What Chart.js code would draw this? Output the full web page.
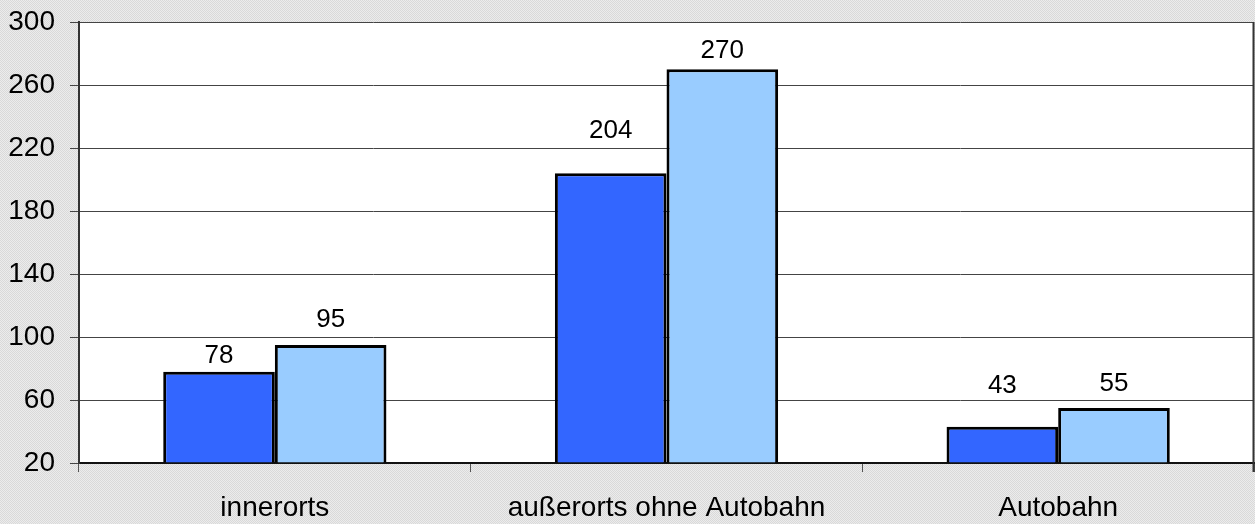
<!DOCTYPE html>
<html>
<head>
<meta charset="utf-8">
<script src="https://cdn.jsdelivr.net/npm/chart.js@4/dist/chart.umd.min.js"></script>
<style>
html,body{margin:0;padding:0;background:#e4e4e4;}
canvas{display:block;}
</style>
</head>
<body>
<canvas id="c" width="1255" height="524"></canvas>
<script>
const categories = ["innerorts", "außerorts ohne Autobahn", "Autobahn"];
const seriesA = [78, 204, 43];
const seriesB = [95, 270, 55];
const yMin = 20, yMax = 300, yStep = 40;

// label lift above bar top (px, to label centre) - style only
const liftA = [18, 45, 43];
const liftB = [27, 21, 26];

const FONT = "'Liberation Sans', Arial, sans-serif";

const bgPlugin = {
  id: 'bg',
  beforeDraw(chart) {
    const ctx = chart.ctx;
    const pc = document.createElement('canvas');
    pc.width = 2; pc.height = 2;
    const p = pc.getContext('2d');
    p.fillStyle = '#ececec'; p.fillRect(0,0,2,2);
    p.fillStyle = '#d9d9d9'; p.fillRect(0,0,1,1); p.fillRect(1,1,1,1);
    ctx.save();
    ctx.fillStyle = ctx.createPattern(pc, 'repeat');
    ctx.fillRect(0, 0, chart.width, chart.height);
    const a = chart.chartArea;
    ctx.fillStyle = '#ffffff';
    ctx.fillRect(a.left, a.top, a.right - a.left, a.bottom - a.top);
    ctx.restore();
  },
  afterDraw(chart) {
    const ctx = chart.ctx;
    const a = chart.chartArea;
    ctx.save();
    ctx.strokeStyle = '#333333';
    ctx.lineWidth = 2;
    ctx.beginPath();
    ctx.moveTo(a.right - 0.5, a.top);
    ctx.lineTo(a.right - 0.5, a.bottom + 9);
    ctx.stroke();
    ctx.restore();
  }
};

const labelPlugin = {
  id: 'vlabels',
  afterDatasetsDraw(chart) {
    const ctx = chart.ctx;
    const lifts = [liftA, liftB];
    ctx.save();
    ctx.font = '26px ' + FONT;
    ctx.fillStyle = '#000';
    ctx.textAlign = 'center';
    ctx.textBaseline = 'alphabetic';
    chart.data.datasets.forEach((ds, di) => {
      const meta = chart.getDatasetMeta(di);
      meta.data.forEach((bar, i) => {
        const cy = bar.y - lifts[di][i];
        ctx.fillText(String(ds.data[i]), bar.x, cy + 9.3);
      });
    });
    ctx.restore();
  }
};

new Chart(document.getElementById('c'), {
  type: 'bar',
  data: {
    labels: categories,
    datasets: [
      { data: seriesA, backgroundColor: '#3366ff', borderColor: '#000', borderWidth: 3, base: yMin },
      { data: seriesB, backgroundColor: '#99ccff', borderColor: '#000', borderWidth: 3, base: yMin }
    ]
  },
  options: {
    responsive: false,
    animation: false,
    layout: { padding: { top: 22, right: 1, left: 0, bottom: 0 } },
    plugins: { legend: { display: false }, tooltip: { enabled: false } },
    datasets: { bar: { categoryPercentage: 0.57, barPercentage: 1.0 } },
    scales: {
      x: {
        offset: true,
        grid: { offset: true, drawOnChartArea: false, color: '#555', tickLength: 9, lineWidth: 1 },
        border: { color: '#111', width: 2 },
        ticks: { color: '#000', font: { family: FONT, size: 28 }, padding: 19, maxRotation: 0 },
        afterFit(s) { s.height = 61; s.paddingLeft = 0; s.paddingRight = 0; }
      },
      y: {
        min: yMin, max: yMax,
        grid: { color: '#444', tickLength: 9, lineWidth: 1 },
        border: { color: '#333', width: 2 },
        ticks: { stepSize: yStep, color: '#000', font: { family: FONT, size: 28 }, padding: 15 },
        afterFit(s) { s.width = 79; s.paddingTop = 0; s.paddingBottom = 0; }
      }
    }
  },
  plugins: [bgPlugin, labelPlugin]
});
</script>
</body>
</html>
